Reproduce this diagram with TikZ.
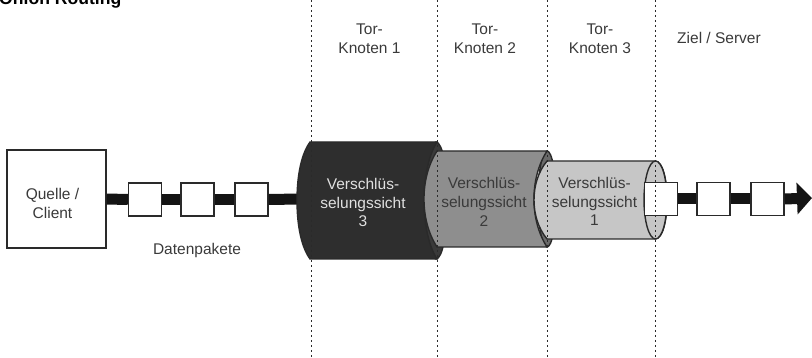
\documentclass[tikz,border=0pt]{standalone}
\usepackage{fontspec}
\setmainfont{Liberation Sans}
\usetikzlibrary{arrows.meta}
\definecolor{ink}{HTML}{2A2A2A}
\definecolor{txt}{HTML}{3A3A3A}
\definecolor{darkc}{HTML}{2E2E2E}
\definecolor{darke}{HTML}{3A3A3A}
\definecolor{midc}{HTML}{8E8E8E}
\definecolor{mide}{HTML}{6A6A6A}
\definecolor{lightc}{HTML}{C6C6C6}
\tikzset{
  x=1pt,y=-1pt,
  lbl/.style={font=\fontsize{15.5}{18.7}\selectfont,text=txt,align=center,inner sep=0pt},
  packet/.style={draw=ink,line width=1.3pt,fill=white,minimum width=33pt,minimum height=33pt,inner sep=0pt},
  srcbox/.style={draw=ink,line width=1.3pt,fill=white,minimum width=99pt,minimum height=98pt,inner sep=0pt},
  pipe/.style={line width=11pt,draw=black!92},
  cyl/.style={draw=ink,line width=1.4pt},
  sep/.style={draw=ink,line width=1pt,dash pattern=on 2pt off 3pt},
}
\begin{document}
\begin{tikzpicture}
\useasboundingbox (0,0) rectangle (812,358);
% source and packets
\node[srcbox] (client) at (56.5,199) {};
\node[packet] (p1) at (145,199.5) {};
\node[packet] (p2) at (197.5,199.5) {};
\node[packet] (p3) at (251.5,199.5) {};
\coordinate (c3in) at (300,199);
\coordinate (tip) at (812,198);
\draw[pipe] (client.east) -- (p1.west);
\draw[pipe] (p1.east) -- (p2.west);
\draw[pipe] (p2.east) -- (p3.west);
\draw[pipe] (p3.east) -- (c3in);
% cylinder 3
\path[cyl,fill=darke] (436,200.5) ellipse [x radius=11.5,y radius=58.5];
\path[cyl,fill=darkc] (310,142) .. controls (300,156) and (297,180) .. (297,200.5)
  .. controls (297,221) and (300,245) .. (310,259) -- (437,259)
  .. controls (428,245) and (424,221) .. (424,200.5)
  .. controls (424,180) and (428,156) .. (437,142) -- cycle;
% cylinder 2
\path[cyl,fill=mide] (547,199) ellipse [x radius=9,y radius=48];
\path[cyl,fill=midc] (437,151) .. controls (428,165) and (424,182) .. (424,199)
  .. controls (424,216) and (428,233) .. (437,247) -- (547,247)
  .. controls (538,233) and (534,216) .. (534,199)
  .. controls (534,182) and (538,165) .. (547,151) -- cycle;
% cylinder 1
\path[cyl,fill=lightc] (547,161) .. controls (538,172) and (534,186) .. (534,200)
  .. controls (534,214) and (538,228) .. (547,239) -- (655,239)
  .. controls (663,239) and (667,220) .. (667,200)
  .. controls (667,180) and (663,161) .. (655,161) -- cycle;
\path[cyl,fill=lightc] (655.5,200) ellipse [x radius=11.5,y radius=39];
% exit packets
\node[packet] (p4) at (661,199) {};
\node[packet] (p5) at (713.5,199) {};
\node[packet] (p6) at (767.5,199) {};
\draw[pipe] (p4.east) -- (p5.west);
\draw[pipe] (p5.east) -- (p6.west);
\draw[pipe,-{Triangle[length=15pt,width=31pt,sep=0pt]}] (p6.east) -- (tip);
% separators
\coordinate (s1a) at (311,0); \coordinate (s1b) at (311,358);
\coordinate (s2a) at (437,0); \coordinate (s2b) at (437,358);
\coordinate (s3a) at (547.5,0); \coordinate (s3b) at (547.5,358);
\coordinate (s4a) at (655,0); \coordinate (s4b) at (655,358);
\draw[sep] (s1a) -- (s1b);
\draw[sep] (s2a) -- (s2b);
\draw[sep] (s3a) -- (s3b);
\draw[sep] (s4a) -- (s4b);
% labels
\node[lbl,anchor=base west,font=\fontsize{17.6}{20}\selectfont\bfseries,text=black] (title) at (-1,5) {Onion Routing};
\node[lbl] (clientlbl) at (52.5,203.5) {Quelle /\\Client};
\node[lbl] (k1) at (369.5,38.5) {Tor-\\Knoten 1};
\node[lbl] (k2) at (485,39) {Tor-\\Knoten 2};
\node[lbl] (k3) at (600,38.5) {Tor-\\Knoten 3};
\node[lbl] (ziel) at (719,38) {Ziel / Server};
\node[lbl] (daten) at (197,250) {Datenpakete};
\node[lbl,text=white!88!black] (v3) at (363,202.5) {Verschlüs-\\selungssicht\\3};
\node[lbl] (v2) at (484,202) {Verschlüs-\\selungssicht\\2};
\node[lbl] (v1) at (594.5,201.5) {Verschlüs-\\selungssicht\\1};
\end{tikzpicture}
\end{document}
